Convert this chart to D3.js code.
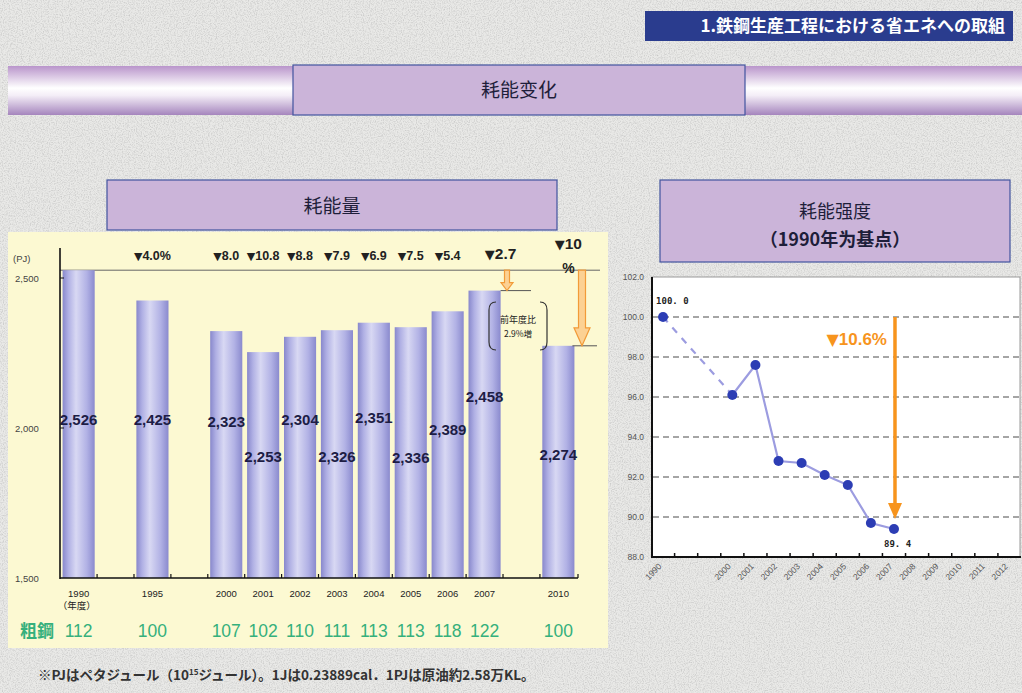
<!DOCTYPE html>
<html>
<head>
<meta charset="utf-8">
<script src="https://cdn.jsdelivr.net/npm/d3@7"></script>
<style>
  body { margin: 0; background: #e8e8e6; }
  svg { display: block; }
</style>
</head>
<body>
<div id="chart"></div>
<script>
// left chart: energy use (PJ)
var years = ["1990", "1995", "2000", "2001", "2002", "2003", "2004", "2005", "2006", "2007", "2010"]
var energy = [2526, 2425, 2323, 2253, 2304, 2326, 2351, 2336, 2389, 2458, 2274]
var crudeSteel = [112, 100, 107, 102, 110, 111, 113, 113, 118, 122, 100]
var cutVs1990 = ["", "4.0%", "8.0", "10.8", "8.8", "7.9", "6.9", "7.5", "5.4", "2.7", "10"]
var yTicksLeft = [1500, 2000, 2500]

// right chart: intensity index (1990 = 100)
var intYears = ["1990", "2000", "2001", "2002", "2003", "2004", "2005", "2006", "2007"]
var intensity = [100.0, 96.1, 97.6, 92.8, 92.7, 92.1, 91.6, 89.7, 89.4]
var xLabelsRight = ["1990", "_a", "_b", "2000", "2001", "2002", "2003", "2004", "2005", "2006", "2007", "2008", "2009", "2010", "2011", "2012"]
var yTicksRight = [88, 90, 92, 94, 96, 98, 100, 102]

var W = 1022, H = 693
var jp = "'Noto Sans CJK JP', 'Noto Sans', sans-serif"
var sc = "'Noto Sans CJK SC', 'Noto Sans', sans-serif"
var lat = "'Liberation Sans', Arial, sans-serif"
var tri = "'DejaVu Sans', sans-serif"

var svg = d3.select("#chart").append("svg")
  .attr("width", W).attr("height", H)

var defs = svg.append("defs")

var noise = defs.append("filter").attr("id", "noise").attr("x", 0).attr("y", 0).attr("width", "100%").attr("height", "100%")
noise.append("feTurbulence").attr("type", "fractalNoise").attr("baseFrequency", 0.85).attr("numOctaves", 2).attr("seed", 4)
noise.append("feColorMatrix").attr("type", "matrix")
  .attr("values", "0 0 0 0 0.4  0 0 0 0 0.4  0 0 0 0 0.4  1.8 0 0 0 -0.75")

var band = defs.append("linearGradient").attr("id", "band").attr("x1", 0).attr("y1", 0).attr("x2", 0).attr("y2", 1)
band.append("stop").attr("offset", "0%").attr("stop-color", "#b995cb")
band.append("stop").attr("offset", "45%").attr("stop-color", "#ffffff")
band.append("stop").attr("offset", "60%").attr("stop-color", "#f4eef7")
band.append("stop").attr("offset", "100%").attr("stop-color", "#a585bd")

var barGrad = defs.append("linearGradient").attr("id", "bar").attr("x1", 0).attr("y1", 0).attr("x2", 1).attr("y2", 0)
barGrad.append("stop").attr("offset", "0%").attr("stop-color", "#8888cc")
barGrad.append("stop").attr("offset", "18%").attr("stop-color", "#b0b0e4")
barGrad.append("stop").attr("offset", "42%").attr("stop-color", "#d8d8f3")
barGrad.append("stop").attr("offset", "75%").attr("stop-color", "#b2b2e5")
barGrad.append("stop").attr("offset", "100%").attr("stop-color", "#8a8ace")

// background
svg.append("rect").attr("width", W).attr("height", H).attr("fill", "#e9e9e7")
svg.append("rect").attr("width", W).attr("height", H).attr("filter", "url(#noise)").attr("opacity", 0.6)

// top right header
svg.append("rect").attr("x", 645).attr("y", 11).attr("width", 368).attr("height", 30).attr("fill", "#2a3c8e")
svg.append("text").attr("x", 1005).attr("y", 32).attr("text-anchor", "end")
  .style("font-family", jp).style("font-weight", "bold").style("font-size", "17px").attr("fill", "#fff")
  .text("1.鉄鋼生産工程における省エネへの取組")

// purple band + title
svg.append("rect").attr("x", 8).attr("y", 66).attr("width", W - 8).attr("height", 49).attr("fill", "url(#band)")
function titleBox(x, y, w, h) {
  svg.append("rect").attr("x", x).attr("y", y).attr("width", w).attr("height", h)
    .attr("fill", "#cbb4d9").attr("stroke", "#42549e").attr("stroke-width", 1.2)
}
titleBox(293, 65, 452, 50)
svg.append("text").attr("x", 519).attr("y", 97).attr("text-anchor", "middle")
  .style("font-family", sc).style("font-size", "19px").attr("fill", "#1e1e3a").text("耗能变化")

titleBox(107, 180, 450, 50)
svg.append("text").attr("x", 332).attr("y", 213).attr("text-anchor", "middle")
  .style("font-family", sc).style("font-size", "19px").attr("fill", "#1e1e3a").text("耗能量")

titleBox(660, 180, 350, 82)
svg.append("text").attr("x", 835).attr("y", 218).attr("text-anchor", "middle")
  .style("font-family", sc).style("font-size", "18px").attr("fill", "#1e1e3a").text("耗能强度")
svg.append("text").attr("x", 835).attr("y", 246).attr("text-anchor", "middle")
  .style("font-family", sc).style("font-weight", "bold").style("font-size", "18px").attr("fill", "#1e1e3a").text("（1990年为基点）")

// ---------- left chart ----------
svg.append("rect").attr("x", 8).attr("y", 232).attr("width", 600).attr("height", 416).attr("fill", "#fcf9d2")

var slots = ["1990", "g1", "1995", "g2", "2000", "2001", "2002", "2003", "2004", "2005", "2006", "2007", "g3", "2010"]
var x = d3.scaleBand().domain(slots).range([60, 577]).paddingInner(0.13).paddingOuter(0.07)
var y = d3.scaleLinear().domain([1500, 2500]).range([578, 278])
var cx = function(yr) { return x(yr) + x.bandwidth() / 2 }

var bars = years.map(function(yr, i) { return { year: yr, value: energy[i], steel: crudeSteel[i], cut: cutVs1990[i] } })

// reference line at the 1990 level
svg.append("line").attr("x1", 60).attr("x2", 600).attr("y1", y(energy[0])).attr("y2", y(energy[0]))
  .attr("stroke", "#666").attr("stroke-width", 1)

svg.selectAll(".bar").data(bars).enter().append("rect")
  .attr("class", "bar")
  .attr("x", function(d) { return x(d.year) })
  .attr("width", x.bandwidth())
  .attr("y", function(d) { return y(d.value) })
  .attr("height", function(d) { return y(1500) - y(d.value) })
  .attr("fill", "url(#bar)")

// level lines for 2007 and 2010
svg.append("line").attr("x1", x("2007") + x.bandwidth()).attr("x2", 531).attr("y1", y(2458)).attr("y2", y(2458)).attr("stroke", "#555")
svg.append("line").attr("x1", x("2010") + x.bandwidth() - 2).attr("x2", 597).attr("y1", y(2274)).attr("y2", y(2274)).attr("stroke", "#555")

// orange arrows
function arrow(ax, y0, y1, shaft, head, headLen) {
  var pts = [[ax - shaft, y0], [ax + shaft, y0], [ax + shaft, y1 - headLen], [ax + head, y1 - headLen],
    [ax, y1], [ax - head, y1 - headLen], [ax - shaft, y1 - headLen]]
  svg.append("polygon").attr("points", pts.map(function(p) { return p.join(",") }).join(" "))
    .attr("fill", "#fcd193").attr("stroke", "#f29b38").attr("stroke-width", 1.2)
}
arrow(507, y(energy[0]), y(2458), 2.5, 6, 8)
arrow(582, y(energy[0]), y(2274), 3.5, 8, 18)

// bracket note
var br = svg.append("g")
br.append("path").attr("d", "M496,302 Q489,302 489,310 L489,342 Q489,350 496,350").attr("fill", "none").attr("stroke", "#333").attr("stroke-width", 1.2)
br.append("path").attr("d", "M540,302 Q547,302 547,310 L547,342 Q547,350 540,350").attr("fill", "none").attr("stroke", "#333").attr("stroke-width", 1.2)
br.append("text").attr("x", 518).attr("y", 323).attr("text-anchor", "middle")
  .style("font-family", jp).style("font-size", "9px").attr("fill", "#222").text("前年度比")
br.append("text").attr("x", 518).attr("y", 337).attr("text-anchor", "middle")
  .style("font-family", jp).style("font-size", "8.5px").attr("fill", "#222").text("2.9%増")

// value labels (staggered like the original slide)
var labelAt = { "1990": 2010, "1995": 2010, "2000": 2003, "2001": 1888, "2002": 2010, "2003": 1888, "2004": 2018, "2005": 1882, "2006": 1977, "2007": 2087, "2010": 1893 }
svg.selectAll(".val").data(bars).enter().append("text")
  .attr("class", "val")
  .attr("x", function(d) { return cx(d.year) })
  .attr("y", function(d) { return y(labelAt[d.year]) })
  .attr("text-anchor", "middle")
  .style("font-family", lat).style("font-weight", "bold").style("font-size", "15px").attr("fill", "#1d1d45")
  .text(function(d) { return d3.format(",")(d.value) })

// reduction labels
function cutLabel(g, txt, size, triSize) {
  g.append("tspan").style("font-family", tri).style("font-size", triSize + "px").text("▼")
  g.append("tspan").style("font-family", lat).style("font-size", size + "px").text(txt)
}
bars.forEach(function(d, i) {
  if (!d.cut || i >= 9) return
  var t = svg.append("text").attr("x", cx(d.year)).attr("y", 260).attr("text-anchor", "middle")
    .style("font-weight", "bold").attr("fill", "#222")
  cutLabel(t, d.cut, 12.5, 11)
})
cutLabel(svg.append("text").attr("x", cx("2007") + 16).attr("y", 259).attr("text-anchor", "middle")
  .style("font-weight", "bold").attr("fill", "#222"), cutVs1990[9], 15.5, 13)
cutLabel(svg.append("text").attr("x", cx("2010") + 10).attr("y", 249).attr("text-anchor", "middle")
  .style("font-weight", "bold").attr("fill", "#222"), cutVs1990[10], 15.5, 13)
svg.append("text").attr("x", cx("2010") + 10).attr("y", 273).attr("text-anchor", "middle")
  .style("font-family", lat).style("font-weight", "bold").style("font-size", "14px").attr("fill", "#222").text("%")

// axes
svg.append("line").attr("x1", 60).attr("x2", 60).attr("y1", 248).attr("y2", 579).attr("stroke", "#111").attr("stroke-width", 1.6)
svg.append("line").attr("x1", 60).attr("x2", 578).attr("y1", 578).attr("y2", 578).attr("stroke", "#111").attr("stroke-width", 1.6)
svg.selectAll(".xt").data(slots.slice(1)).enter().append("line")
  .attr("x1", function(d) { return x(d) - x.step() * x.paddingInner() / 2 })
  .attr("x2", function(d) { return x(d) - x.step() * x.paddingInner() / 2 })
  .attr("y1", 574).attr("y2", 578).attr("stroke", "#111").attr("stroke-width", 1.2)
svg.append("line").attr("x1", 578).attr("x2", 578).attr("y1", 574).attr("y2", 578).attr("stroke", "#111").attr("stroke-width", 1.2)
svg.selectAll(".yt").data(yTicksLeft.slice(1)).enter().append("line")
  .attr("x1", 60).attr("x2", 64).attr("y1", function(d) { return y(d) }).attr("y2", function(d) { return y(d) })
  .attr("stroke", "#111")
svg.selectAll(".yl").data(yTicksLeft).enter().append("text")
  .attr("x", 15).attr("y", function(d) { return y(d) + 4 })
  .style("font-family", lat).style("font-size", "9.5px").attr("fill", "#444")
  .text(function(d) { return d3.format(",")(d) })
svg.append("text").attr("x", 13).attr("y", 262).style("font-family", lat).style("font-size", "9.5px").attr("fill", "#444").text("(PJ)")

svg.selectAll(".yr").data(bars).enter().append("text")
  .attr("x", function(d) { return cx(d.year) })
  .attr("y", 597).attr("text-anchor", "middle")
  .style("font-family", lat).style("font-size", "9.5px").attr("fill", "#222")
  .text(function(d) { return d.year })
svg.append("text").attr("x", cx("1990") - 2).attr("y", 609).attr("text-anchor", "middle")
  .style("font-family", jp).style("font-size", "9.5px").attr("fill", "#222").text("（年度）")

svg.append("text").attr("x", 20).attr("y", 637)
  .style("font-family", jp).style("font-weight", "bold").style("font-size", "17px").attr("fill", "#35b07c").text("粗鋼")
svg.selectAll(".steel").data(bars).enter().append("text")
  .attr("x", function(d) { return cx(d.year) })
  .attr("y", 637).attr("text-anchor", "middle")
  .style("font-family", lat).style("font-size", "17.5px").attr("fill", "#35b07c")
  .text(function(d) { return d.steel })

svg.append("text").attr("x", 38).attr("y", 680)
  .style("font-family", jp).style("font-weight", "bold").style("font-size", "13.5px").attr("fill", "#333")
  .html("※PJはペタジュール（10<tspan dy='-5' font-size='8px'>15</tspan><tspan dy='5'>ジュール）。1Jは0.23889cal．1PJは原油約2.58万KL。</tspan>")

// ---------- right chart ----------
var xr = d3.scaleBand().domain(xLabelsRight).range([651.5, 1021])
var yr = d3.scaleLinear().domain([88, 102]).range([557, 277])
var rcx = function(d) { return xr(d) + xr.bandwidth() / 2 }

svg.append("rect").attr("x", 652).attr("y", 277).attr("width", 368).attr("height", 280).attr("fill", "#fff").attr("stroke", "#999")

svg.selectAll(".grid").data(yTicksRight.filter(function(d) { return d > 88 && d < 102 })).enter().append("line")
  .attr("x1", 653).attr("x2", 1020)
  .attr("y1", function(d) { return yr(d) }).attr("y2", function(d) { return yr(d) })
  .attr("stroke", "#888").attr("stroke-width", 1.3).attr("stroke-dasharray", "6,4")

svg.append("line").attr("x1", 652).attr("x2", 652).attr("y1", 277).attr("y2", 558).attr("stroke", "#111").attr("stroke-width", 2)
svg.append("line").attr("x1", 651).attr("x2", 1021).attr("y1", 557).attr("y2", 557).attr("stroke", "#111").attr("stroke-width", 2)
svg.selectAll(".rxt").data(xLabelsRight.slice(1)).enter().append("line")
  .attr("x1", function(d) { return xr(d) }).attr("x2", function(d) { return xr(d) })
  .attr("y1", 553).attr("y2", 557).attr("stroke", "#111").attr("stroke-width", 1.5)

svg.selectAll(".ryl").data(yTicksRight).enter().append("text")
  .attr("x", 644).attr("y", function(d) { return yr(d) + 3 }).attr("text-anchor", "end")
  .style("font-family", lat).style("font-size", "8.5px").attr("fill", "#555")
  .text(function(d) { return d3.format(".1f")(d) })

svg.selectAll(".rxl").data(xLabelsRight.filter(function(d) { return d[0] !== "_" })).enter().append("text")
  .attr("transform", function(d) { return "translate(" + (rcx(d) - 1) + ",567) rotate(-45)" })
  .attr("text-anchor", "end")
  .style("font-family", lat).style("font-size", "8.5px").attr("fill", "#555")
  .text(function(d) { return d })

var pts = intYears.map(function(yrr, i) { return { year: yrr, v: intensity[i] } })
var line = d3.line().x(function(d) { return rcx(d.year) }).y(function(d) { return yr(d.v) })
svg.append("path").attr("d", line(pts.slice(0, 2))).attr("fill", "none")
  .attr("stroke", "#9c9ce0").attr("stroke-width", 2.2).attr("stroke-dasharray", "7,7")
svg.append("path").attr("d", line(pts.slice(1))).attr("fill", "none")
  .attr("stroke", "#9c9ce0").attr("stroke-width", 2.2)
svg.selectAll(".dot").data(pts).enter().append("circle")
  .attr("cx", function(d) { return rcx(d.year) }).attr("cy", function(d) { return yr(d.v) })
  .attr("r", 5).attr("fill", "#2c3db4")

svg.append("text").attr("x", rcx("1990") - 7).attr("y", 304)
  .style("font-family", "'DejaVu Sans Mono', monospace").style("font-weight", "bold").style("font-size", "9px").attr("fill", "#222").text("100. 0")
svg.append("text").attr("x", rcx("2007") - 10).attr("y", 547)
  .style("font-family", "'DejaVu Sans Mono', monospace").style("font-weight", "bold").style("font-size", "9px").attr("fill", "#222").text("89. 4")

// orange arrow from 100 to 90
var ax = rcx("2007") + 1
svg.append("line").attr("x1", ax).attr("x2", ax).attr("y1", yr(100)).attr("y2", yr(90) - 12)
  .attr("stroke", "#f7941d").attr("stroke-width", 3.5)
svg.append("polygon").attr("points", (ax - 7) + "," + (yr(90) - 14) + " " + (ax + 7) + "," + (yr(90) - 14) + " " + ax + "," + (yr(90) + 2))
  .attr("fill", "#f7941d")
var t106 = svg.append("text").attr("x", ax - 8).attr("y", 345).attr("text-anchor", "end")
  .style("font-weight", "bold").attr("fill", "#f7941d")
t106.append("tspan").style("font-family", tri).style("font-size", "16px").text("▼")
t106.append("tspan").style("font-family", lat).style("font-size", "17px").text("10.6%")
</script>
</body>
</html>
